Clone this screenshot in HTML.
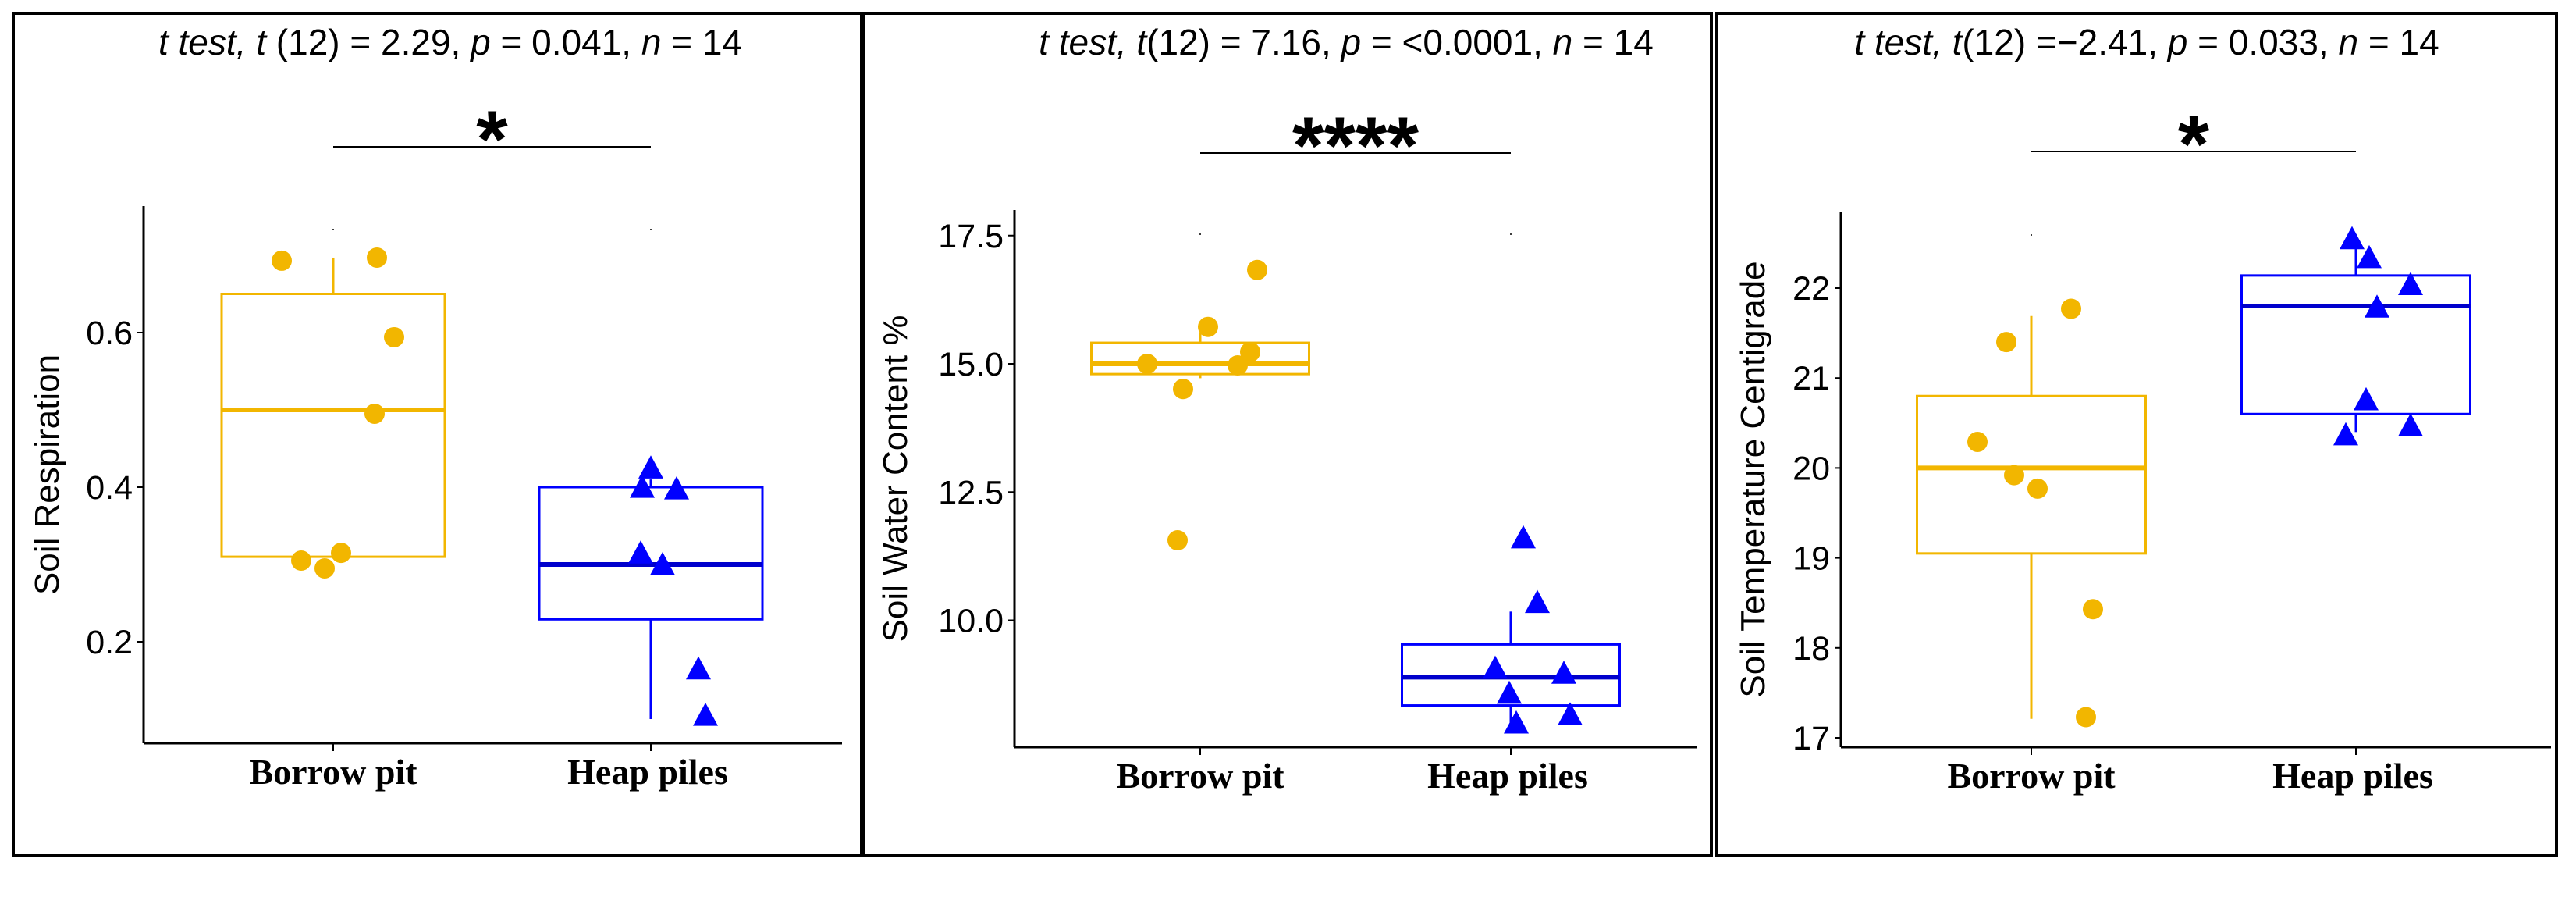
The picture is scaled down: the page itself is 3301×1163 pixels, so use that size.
<!DOCTYPE html>
<html><head><meta charset="utf-8"><style>
html,body{margin:0;padding:0;background:#fff;}
svg{display:block;}
</style></head><body>
<svg id="fig" width="3301" height="1163" viewBox="0 0 3301 1163" xmlns="http://www.w3.org/2000/svg"></svg>
<script>
const categories = ["Borrow pit", "Heap piles"];
// Panel 1: Soil Respiration
const p1Title = ["t test, ", "t", " (12) = 2.29, ", "p", " = 0.041, ", "n", " = 14"];
const p1Ticks = [0.2, 0.4, 0.6];
const p1Borrow = [0.693, 0.697, 0.594, 0.495, 0.305, 0.295, 0.315];
const p1Heap = [0.425, 0.40, 0.398, 0.315, 0.30, 0.165, 0.105];
const p1BoxBorrow = [0.31, 0.50, 0.65, 0.31, 0.697]; // q1, median, q3, whiskerLow, whiskerHigh
const p1BoxHeap = [0.229, 0.30, 0.40, 0.10, 0.41];
// Panel 2: Soil Water Content
const p2Title = ["t test, ", "t", "(12) = 7.16, ", "p", " = <0.0001, ", "n", " = 14"];
const p2Ticks = [10.0, 12.5, 15.0, 17.5];
const p2Borrow = [16.83, 15.72, 15.0, 15.23, 14.97, 14.51, 11.56];
const p2Heap = [11.61, 10.35, 9.07, 8.97, 8.58, 8.16, 8.0];
const p2BoxBorrow = [14.8, 15.0, 15.41, 14.72, 15.6];
const p2BoxHeap = [8.34, 8.89, 9.53, 7.97, 10.17];
// Panel 3: Soil Temperature
const p3Title = ["t test, ", "t", "(12) =\u22122.41, ", "p", " = 0.033, ", "n", " = 14"];
const p3Ticks = [17, 18, 19, 20, 21, 22];
const p3Borrow = [21.77, 21.40, 20.29, 19.92, 19.77, 18.43, 17.23];
const p3Heap = [22.55, 22.34, 22.04, 21.79, 20.76, 20.37, 20.47];
const p3BoxBorrow = [19.05, 20.0, 20.8, 17.21, 21.69];
const p3BoxHeap = [20.6, 21.8, 22.14, 20.4, 22.5];

const NS = "http://www.w3.org/2000/svg";
const svg = document.getElementById('fig');
function mk(tag, attrs, parent){
  const e = document.createElementNS(NS, tag);
  for (const k in attrs) e.setAttribute(k, attrs[k]);
  (parent||svg).appendChild(e);
  return e;
}
const GOLD = "#f2b600", BLUE = "#0000ff";

const panels = [
  {frame:[17,17,1087,1079], ax:{x:184,top:264,bottom:952,right:1079}, y0:0.6, py0:426, ppu:990,
   cx:[427,834], bw:286, fmt:v=>v.toFixed(1), title:p1Title, tx:577, ticks:p1Ticks,
   borrow:p1Borrow, heap:p1Heap, bb:p1BoxBorrow, hb:p1BoxHeap,
   jb:[361,483,505,480,386,416,437], jh:[834,823,867,821,849,895,904],
   sigY:188, star:"*", ylabel:"Soil Respiration", ylx:61, dotY:294, name:"soil-respiration"},
  {frame:[1106,17,1087,1079], ax:{x:1300,top:269,bottom:957,right:2174}, y0:15, py0:466, ppu:65.7,
   cx:[1538,1936], bw:279, fmt:v=>v.toFixed(1), title:p2Title, tx:1725, ticks:p2Ticks,
   borrow:p2Borrow, heap:p2Heap, bb:p2BoxBorrow, hb:p2BoxHeap,
   jb:[1611,1548,1470,1602,1586,1516,1509], jh:[1952,1970,1916,2004,1934,2012,1943],
   sigY:196, star:"****", ylabel:"Soil  Water  Content %", ylx:1148, dotY:300, name:"soil-water"},
  {frame:[2200,17,1076,1079], ax:{x:2359,top:271,bottom:957,right:3269}, y0:22, py0:369, ppu:115.2,
   cx:[2603,3019], bw:293, fmt:v=>String(v), title:p3Title, tx:2751, ticks:p3Ticks,
   borrow:p3Borrow, heap:p3Heap, bb:p3BoxBorrow, hb:p3BoxHeap,
   jb:[2654,2571,2534,2581,2611,2682,2673], jh:[3014,3036,3089,3046,3032,3006,3089],
   sigY:194, star:"*", ylabel:"Soil Temperature Centigrade", ylx:2247, dotY:301, name:"soil-temperature"}
];

panels.forEach((p, pi) => {
  const g = mk('g', {});
  
  
  const Y = v => p.py0 - (v - p.y0) * p.ppu;
  const f = mk('rect', {x:p.frame[0], y:p.frame[1], width:p.frame[2], height:p.frame[3], fill:'none', stroke:'#000', 'stroke-width':4}, g);
  
  
  // title
  const t = mk('text', {x:p.tx, y:70, 'text-anchor':'middle', 'font-family':'Liberation Sans, sans-serif', 'font-size':46}, g);
  
  
  p.title.forEach((s, i) => {
    const ts = mk('tspan', {}, t);
    if (i === 0 || i % 2 === 1) ts.setAttribute('font-style', 'italic');
    ts.textContent = s;
  });
  // significance
  const sl = mk('line', {x1:p.cx[0], x2:p.cx[1], y1:p.sigY, y2:p.sigY, stroke:'#000', 'stroke-width':2}, g);
  
  
  const st = mk('text', {x:(p.cx[0]+p.cx[1])/2, y:p.sigY + 26, 'text-anchor':'middle', 'font-family':'Liberation Sans, sans-serif', 'font-size':104, 'font-weight':'bold'}, g);
  
  
  st.textContent = p.star;
  // axes
  const ya = mk('line', {x1:p.ax.x, x2:p.ax.x, y1:p.ax.top, y2:p.ax.bottom, stroke:'#000', 'stroke-width':3}, g);
  
  
  const xa = mk('line', {x1:p.ax.x, x2:p.ax.right, y1:p.ax.bottom, y2:p.ax.bottom, stroke:'#000', 'stroke-width':3}, g);
  
  
  p.ticks.forEach(v => {
    const y = Y(v);
    mk('line', {x1:p.ax.x - 8, x2:p.ax.x, y1:y, y2:y, stroke:'#000', 'stroke-width':2}, g);
    const tl = mk('text', {x:p.ax.x - 14, y:y + 15, 'text-anchor':'end', 'font-family':'Liberation Sans, sans-serif', 'font-size':43}, g);
    
    
    tl.textContent = p.fmt(v);
  });
  const yl = mk('text', {x:0, y:0, 'text-anchor':'middle', 'font-family':'Liberation Sans, sans-serif', 'font-size':44, transform:`translate(${p.ylx + 14},${(p.ax.top+p.ax.bottom)/2}) rotate(-90)`}, g);
  
  
  yl.textContent = p.ylabel;
  categories.forEach((c, ci) => {
    const x = p.cx[ci];
    mk('line', {x1:x, x2:x, y1:p.ax.bottom, y2:p.ax.bottom + 10, stroke:'#000', 'stroke-width':2}, g);
    const xl = mk('text', {x:x + (ci?-4:0), y:p.ax.bottom + 52, 'text-anchor':'middle', 'font-family':'Liberation Serif, serif', 'font-size':46, 'font-weight':'bold'}, g);
    
    
    xl.textContent = c;
    mk('circle', {cx:x, cy:p.dotY, r:1, fill:'#000'}, g);
  });
  // boxes
  [[p.bb, GOLD, GOLD], [p.hb, BLUE, '#0000cc']].forEach(([b, col, mcol], ci) => {
    const x = p.cx[ci], hw = p.bw/2;
    const bg = mk('g', {}, g);
    
    
    mk('line', {x1:x, x2:x, y1:Y(b[4]), y2:Y(b[2]), stroke:col, 'stroke-width':3}, bg);
    mk('line', {x1:x, x2:x, y1:Y(b[0]), y2:Y(b[3]), stroke:col, 'stroke-width':3}, bg);
    mk('rect', {x:x-hw, y:Y(b[2]), width:p.bw, height:Y(b[0]) - Y(b[2]), fill:'none', stroke:col, 'stroke-width':3}, bg);
    mk('line', {x1:x-hw, x2:x+hw, y1:Y(b[1]), y2:Y(b[1]), stroke:mcol, 'stroke-width':6}, bg);
  });
  // points
  p.borrow.forEach((v, i) => {
    const c = mk('circle', {cx:p.jb[i], cy:Y(v), r:13, fill:GOLD}, g);
    
    
  });
  p.heap.forEach((v, i) => {
    const x = p.jh[i], y = Y(v), s = 16;
    const tr = mk('polygon', {points:`${x},${y-s} ${x-s},${y+s*0.85} ${x+s},${y+s*0.85}`, fill:BLUE}, g);
    
    
  });
});
</script>
</body></html>
